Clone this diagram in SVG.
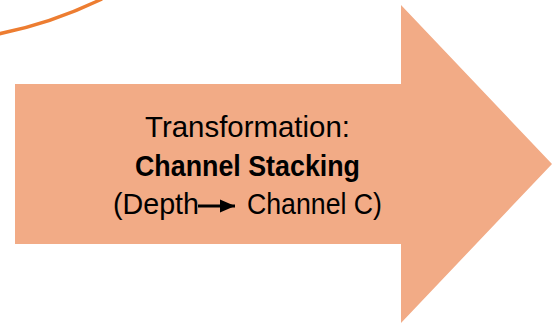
<svg xmlns="http://www.w3.org/2000/svg" width="552" height="323" viewBox="0 0 552 323">
<style>
.t{font-family:"Liberation Sans",Arial,sans-serif;font-size:29px;fill:#000}
.b{font-weight:bold}
</style>
<defs>
<marker id="ah" markerWidth="5" markerHeight="4.4" refX="5" refY="2.2" orient="auto" markerUnits="strokeWidth">
<path d="M0,0 L5,2.2 L0,4.4 Z" fill="#000"/>
</marker>
</defs>
<rect width="552" height="323" fill="#fff"/>
<g id="curve">
<path d="M-2,34 Q50,24 102,-1" fill="none" stroke="#ED7D31" stroke-width="3.5"/>
</g>
<g id="bigArrow">
<polygon points="15,84 401,84 401,5 552,164 401,323 401,244 15,244" fill="#F2AB86"/>
<text class="t" x="247.5" y="137" text-anchor="middle" textLength="205" lengthAdjust="spacingAndGlyphs">Transformation:</text>
<text class="t b" x="247.5" y="176" text-anchor="middle" textLength="225" lengthAdjust="spacingAndGlyphs">Channel Stacking</text>
<text class="t" x="113" y="214" textLength="86" lengthAdjust="spacingAndGlyphs">(Depth</text>
<text class="t" x="382" y="214" text-anchor="end" textLength="135" lengthAdjust="spacingAndGlyphs">Channel C)</text>
</g>
<g id="connectors">
<line x1="198" y1="206" x2="235" y2="206" stroke="#000" stroke-width="3" marker-end="url(#ah)"/>
</g>
</svg>
